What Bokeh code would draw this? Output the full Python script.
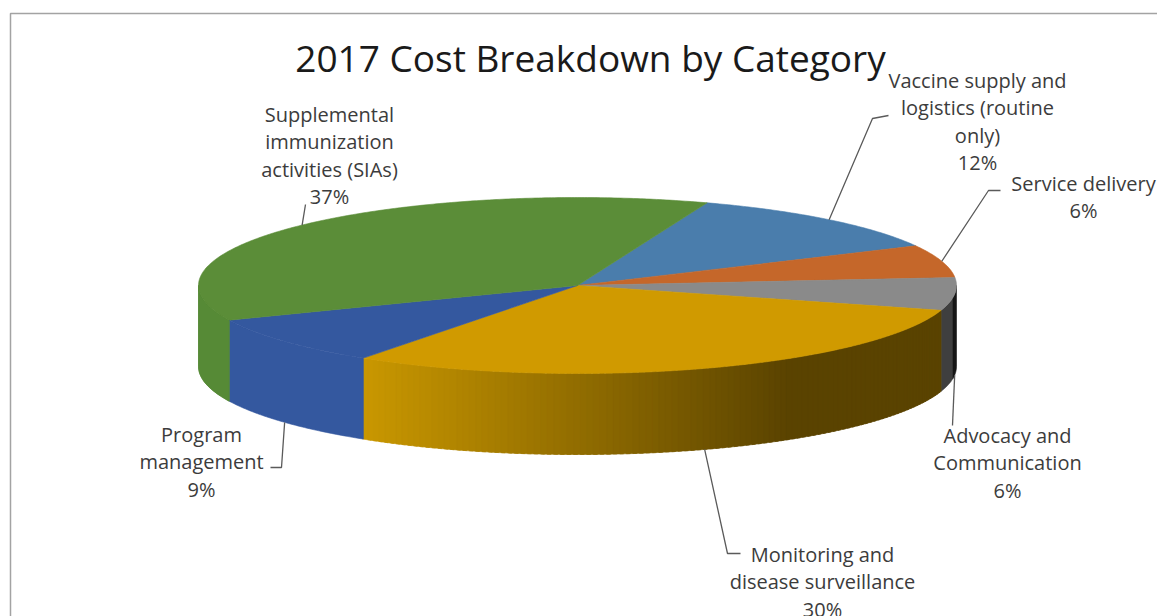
import numpy as np
from bokeh.models import ColumnDataSource, Range1d
from bokeh.plotting import figure
from bokeh.core.properties import value
from bokeh.embed import file_html
from bokeh.resources import INLINE

# Slices in clockwise order from the back of the pie
categories = ["Vaccine supply and logistics (routine only)", "Service delivery",
              "Advocacy and Communication", "Monitoring and disease surveillance",
              "Program management", "Supplemental immunization activities (SIAs)"]
shares = [12, 6, 6, 30, 9, 37]
top_colors = ["#4a7dac", "#c5672a", "#8a8a8a", "#d09a00", "#34589f", "#5b8d38"]
side_colors = ["#3d6a94", "#a85823", "#3f3f3f", "#c99700", "#34589f", "#568a36"]

label_lines = [
    ["Vaccine supply and", "logistics (routine", "only)", "12%"],
    ["Service delivery", "6%"],
    ["Advocacy and", "Communication", "6%"],
    ["Monitoring and", "disease surveillance", "30%"],
    ["Program", "management", "9%"],
    ["Supplemental", "immunization", "activities (SIAs)", "37%"],
]
label_x = [977, 1083, 1007, 822, 201, 329]
label_y = [80, 183, 435, 554, 434, 114]
# Where each leader line bends and ends, in page pixels
leader_ends = [
    [(872, 118), (888, 115)],
    [(988, 190), (1000, 190)],
    [(952, 425)],
    [(727, 553), (740, 553)],
    [(281, 467), (270, 467)],
    [(305, 204)],
]

CX, CY, RX, RY, DEPTH = 577, 285, 379, 88, 81
START_ANGLE = 70.0
LINE_STEP = 27.3


def rim(deg):
    t = np.radians(deg)
    return CX + RX * np.cos(t), CY - RY * np.sin(t)


def mix(a, b, f):
    ca = [int(a[i:i + 2], 16) for i in (1, 3, 5)]
    cb = [int(b[i:i + 2], 16) for i in (1, 3, 5)]
    return "#%02x%02x%02x" % tuple(round(x + (y - x) * f) for x, y in zip(ca, cb))


sweeps = np.array(shares) * 3.6
ends = START_ANGLE - np.cumsum(sweeps)
starts = ends + sweeps

p = figure(width=1157, height=616, output_backend="svg", toolbar_location=None,
           x_range=Range1d(0, 1157), y_range=Range1d(616, 0),
           min_border=0, outline_line_color=None, background_fill_color="white")
p.axis.visible = False
p.grid.visible = False

# Frame along the top and left of the chart area
p.line([10, 10, 1157], [616, 13, 13], line_color="#a3a3a3", line_width=1.5)

# Outer wall of the cylinder, only where the rim faces the viewer
wall_xs, wall_ys, wall_fill = [], [], []


def add_wall(a0, a1, color):
    t = np.linspace(a0, a1, max(2, int(abs(a1 - a0) * 2) + 1))
    x, y = rim(t)
    wall_xs.append(np.concatenate([x, x[::-1]]))
    wall_ys.append(np.concatenate([y, y[::-1] + DEPTH]))
    wall_fill.append(color)


for s, e, c, name in zip(starts, ends, side_colors, categories):
    lo, hi = max(e, -180 if e > -200 else e), min(s, 0)
    if e < -180 and s < -180:
        # Wrapped slice: only its part before the left extreme is visible
        lo, hi = -180, e + 360
    if e < -180 <= s:
        lo, hi = -180, s
    if hi <= lo:
        continue
    if name.startswith("Monitoring"):
        # Shading darkens from the lit left end towards the right
        edges = np.arange(lo, hi + 1.0, 1.0)
        edges[-1] = hi
        for a0, a1 in zip(edges[:-1], edges[1:]):
            x_mid = rim((a0 + a1) / 2)[0]
            f = min(1.0, max(0.0, (x_mid - 367) / (790 - 367)))
            add_wall(a0 - 0.2, min(a1 + 0.4, hi), mix(c, "#5a4300", f))
    elif name.startswith("Advocacy"):
        add_wall(lo, -8, c)
        add_wall(-8, hi, "#161616")
    else:
        add_wall(lo, hi, c)

# The wedge sitting at the left end of the wall is the last slice, whose sweep runs past -180
add_wall(-180, ends[4], side_colors[5])

p.patches(source=ColumnDataSource(dict(xs=wall_xs, ys=wall_ys, fill=wall_fill)),
          xs="xs", ys="ys", fill_color="fill", line_color="fill", line_width=0.6)

# Top face of each slice
top_xs, top_ys = [], []
for s, e in zip(starts, ends):
    t = np.linspace(s, e, int(abs(s - e) * 2) + 2)
    x, y = rim(t)
    top_xs.append(np.concatenate([[CX], x]))
    top_ys.append(np.concatenate([[CY], y]))
p.patches(source=ColumnDataSource(dict(xs=top_xs, ys=top_ys, fill=top_colors)),
          xs="xs", ys="ys", fill_color="fill", line_color="fill", line_width=0.6)

# Leader lines start from the middle of each slice's rim
mids = (starts + ends) / 2
for m, bends in zip(mids, leader_ends):
    x0, y0 = rim(m)
    a = np.radians(m)
    if np.sin(a) < 0:
        y0 += DEPTH
    xs = [x0] + [b[0] for b in bends]
    ys = [y0] + [b[1] for b in bends]
    p.line(xs, ys, line_color="#5a5a5a", line_width=1.3)

# Category labels
font = value("Open Sans")
tx, ty, tt = [], [], []
for lines, lx, ly in zip(label_lines, label_x, label_y):
    for i, line in enumerate(lines):
        tx.append(lx)
        ty.append(ly + i * LINE_STEP)
        tt.append(line)
p.text(tx, ty, text=tt, text_font=font, text_font_size="20px", text_color="#3c3c3c",
       text_align="center", text_baseline="middle")

p.text([590], [57], text=["2017 Cost Breakdown by Category"], text_font=font,
       text_font_size="37px", text_color="#1a1a1a", text_align="center", text_baseline="middle")

open("out.html", "w").write(file_html(p, INLINE))
